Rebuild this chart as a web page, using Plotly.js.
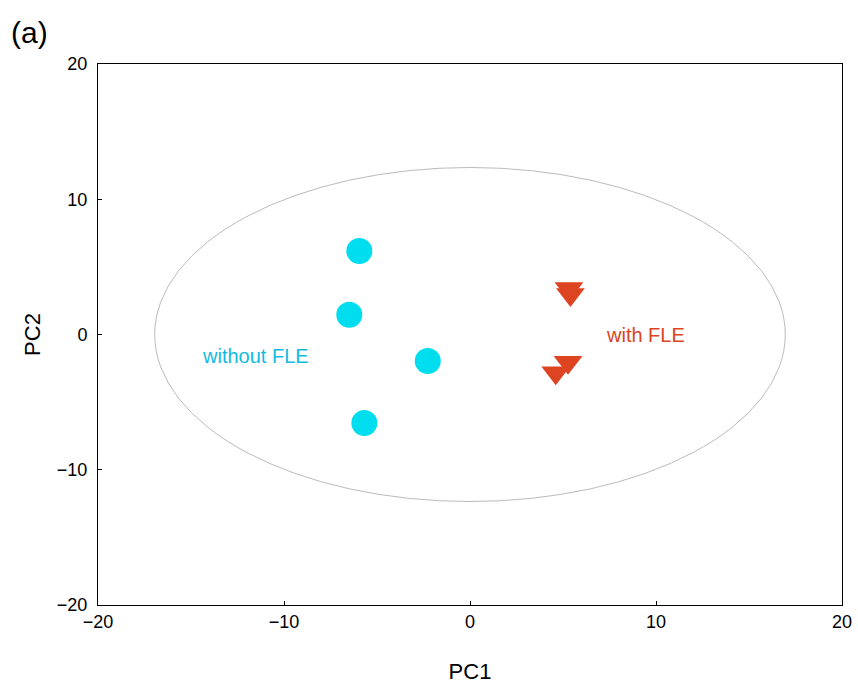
<!DOCTYPE html>
<html>
<head>
<meta charset="utf-8">
<script src="https://cdn.plot.ly/plotly-3.0.1.min.js"></script>
<style>html,body{margin:0;padding:0;background:#fff;}#chart{width:858px;height:684px;}</style>
</head>
<body>
<div id="chart"></div>
<script>
// Sample groups (PC scores)
const withoutPC1 = [-5.95, -6.49, -2.27, -5.68];
const withoutPC2 = [6.17, 1.46, -1.96, -6.54];
const withPC1 = [5.32, 5.40, 5.27, 4.61];
const withPC2 = [3.41, 2.96, -2.06, -2.82];
const groupLabels = ["without FLE", "with FLE"];
const labelX = [-11.53, 9.41];
const labelY = [-1.57, 0.0];
// Confidence ellipse (center and semi-axes)
const ellipseCenter = [0, 0];
const ellipseRadii = [16.95, 12.35];
const axisTicks = [-20, -10, 0, 10, 20];

const cyan = "#00DDEE";
const red = "#DD4422";

const traces = [
  {
    x: withoutPC1, y: withoutPC2, type: "scatter", mode: "markers",
    marker: {symbol: "circle", size: 26, color: cyan, line: {width: 0}},
    hoverinfo: "skip", showlegend: false
  },
  {
    x: withPC1, y: withPC2, type: "scatter", mode: "markers",
    marker: {symbol: "triangle-down", size: 25, color: red, line: {width: 0}},
    hoverinfo: "skip", showlegend: false
  }
];

const axisCommon = {
  range: [-20, 20], tickvals: axisTicks, ticks: "inside", ticklen: 4, tickwidth: 1, tickcolor: "#000",
  showline: true, linecolor: "#000", linewidth: 1, mirror: true, showgrid: false, zeroline: false,
  tickfont: {family: "Liberation Sans, Arial, sans-serif", size: 18, color: "#000"}
};

const layout = {
  width: 858, height: 684,
  margin: {l: 98, r: 16, t: 64, b: 79},
  paper_bgcolor: "#fff", plot_bgcolor: "#fff",
  font: {family: "Liberation Sans, Arial, sans-serif", color: "#000"},
  xaxis: Object.assign({}, axisCommon, {title: {text: "PC1", font: {size: 22}, standoff: 33}}),
  yaxis: Object.assign({}, axisCommon, {ticklabelstandoff: 6, title: {text: "PC2", font: {size: 22}, standoff: 10}}),
  shapes: [{
    type: "circle", xref: "x", yref: "y", layer: "below",
    x0: ellipseCenter[0] - ellipseRadii[0], x1: ellipseCenter[0] + ellipseRadii[0],
    y0: ellipseCenter[1] - ellipseRadii[1], y1: ellipseCenter[1] + ellipseRadii[1],
    line: {color: "#BBBBBB", width: 1}
  }],
  annotations: [
    {x: labelX[0], y: labelY[0], xref: "x", yref: "y", text: groupLabels[0], showarrow: false,
     font: {size: 20, color: "#11BBE0"}},
    {x: labelX[1], y: labelY[1], xref: "x", yref: "y", text: groupLabels[1], showarrow: false,
     font: {size: 20, color: red}},
    {xref: "paper", yref: "paper", xanchor: "left", yanchor: "middle", x: -89/744, y: 1 + 31/541,
     text: "(a)", showarrow: false, font: {size: 30, color: "#000"}}
  ]
};

Plotly.newPlot("chart", traces, layout, {displayModeBar: false, staticPlot: true});
</script>
</body>
</html>
